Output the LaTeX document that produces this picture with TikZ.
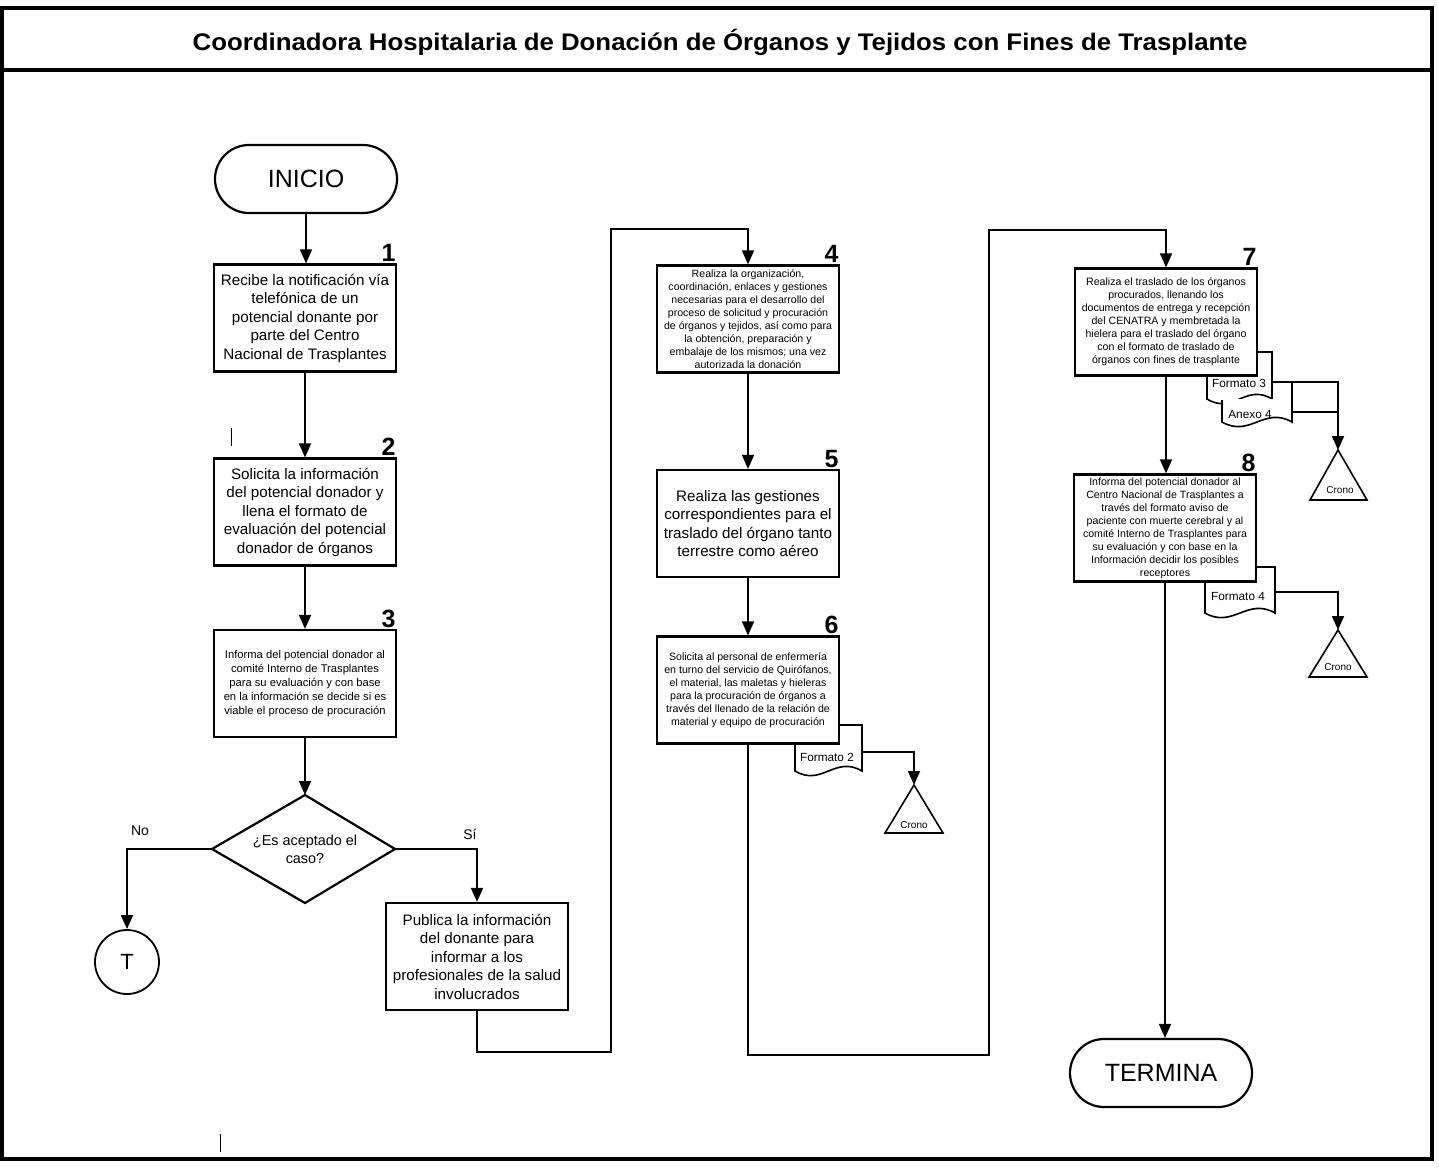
\documentclass[tikz,border=0pt]{standalone}
\usepackage{fontspec}
\setmainfont{Liberation Sans}
\usetikzlibrary{arrows.meta,shapes.geometric}
% document symbol: top-left (#1,#2), bottom-right (#3,#4), wavy bottom edge
\newcommand\docshape[5][]{%
  \draw[docline,#1] (#2,#3) -- (#4,#3) -- (#4,#5)
    .. controls ({#4-0.4*(#4-#2)},{#5-16}) and ({#2+0.4*(#4-#2)},{#5+16}) .. (#2,#5) -- cycle;}
\begin{document}
\begin{tikzpicture}[x=0.5pt,y=-0.5pt,
  frame/.style={line width=1.6pt},
  box/.style={draw, line width=1.1pt, fill=white, minimum width=91pt,
    minimum height=53.5pt, inner sep=1pt, align=center},
  btext/.style={font=\fontsize{7.6}{9.25}\selectfont},
  stext/.style={font=\fontsize{5.3}{6.5}\selectfont},
  mtext/.style={font=\fontsize{5.6}{7}\selectfont},
  term/.style={draw, line width=1.1pt, fill=white, rounded corners=17pt,
    minimum width=91pt, minimum height=34pt, font=\fontsize{12.5}{14}\selectfont},
  num/.style={anchor=south east, inner sep=0.6pt, font=\bfseries\fontsize{12.5}{14}\selectfont},
  flow/.style={line width=0.8pt, -{Triangle[length=7pt,width=6pt]}},
  link/.style={line width=0.8pt},
  docline/.style={draw, line width=0.8pt, fill=white},
  dtext/.style={inner sep=0pt, font=\fontsize{5.9}{7}\selectfont},
  ctext/.style={inner sep=0pt, font=\fontsize{5}{6}\selectfont},
  lbl/.style={inner sep=0pt, font=\fontsize{7}{8}\selectfont}
]
\useasboundingbox (0,0) rectangle (1439,1167);

% page frame and title band
\draw[frame] (2,8) rectangle (1432,1159);
\draw[frame] (2,70) -- (1432,70);
\node[font=\bfseries\fontsize{12}{14}\selectfont] (title) at (720,42)
  {\scalebox{1.075}[1]{Coordinadora Hospitalaria de Donación de Órganos y Tejidos con Fines de Trasplante}};

% column 1
\node[term] (inicio) at (306,179) {INICIO};
\node[box, btext] (b1) at (305,318) {Recibe la notificación vía\\ telefónica de un\\ potencial donante por\\ parte del Centro\\ Nacional de Trasplantes};
\node[num] at (b1.north east) {1};
\node[box, btext] (b2) at (305,512) {Solicita la información\\ del potencial donador y\\ llena el formato de\\ evaluación del potencial\\ donador de órganos};
\node[num] at (b2.north east) {2};
\node[box, mtext] (b3) at (305,683.5) {Informa del potencial donador al\\ comité Interno de Trasplantes\\ para su evaluación y con base\\ en la información se decide si es\\ viable el proceso de procuración};
\node[num] at (b3.north east) {3};

% decision
\coordinate (dt) at (305,795);
\coordinate (dr) at (395,849);
\coordinate (db) at (305,903);
\coordinate (dl) at (212,849);
\draw[line width=1.1pt, fill=white] (dt) -- (dr) -- (db) -- (dl) -- cycle;
\node[inner sep=0pt, align=center, font=\fontsize{7.2}{9}\selectfont] (dia) at (305,849)
  {¿Es aceptado el\\ caso?};
\node[draw, circle, line width=0.9pt, minimum size=32pt, inner sep=0pt,
  font=\fontsize{11}{12}\selectfont] (T) at (127,962) {T};
\node[box, btext] (pub) at (477,956.5) {Publica la información\\ del donante para\\ informar a los\\ profesionales de la salud\\ involucrados};
\node[lbl] (no) at (140,831) {No};
\node[lbl] (si) at (470,834) {Sí};

% column 2
\coordinate (f2r) at (862,752);
\docshape{795}{725}{862}{771}
\node[dtext] (f2) at (827,757) {Formato 2};
\node[box, stext] (b4) at (748,319) {Realiza la organización,\\ coordinación, enlaces y gestiones\\ necesarias para el desarrollo del\\ proceso de solicitud y procuración\\ de órganos y tejidos, así como para\\ la obtención, preparación y\\ embalaje de los mismos; una vez\\ autorizada la donación};
\node[num] at (b4.north east) {4};
\node[box, btext] (b5) at (748,523.5) {Realiza las gestiones\\ correspondientes para el\\ traslado del órgano tanto\\ terrestre como aéreo};
\node[num] at (b5.north east) {5};
\node[box, stext] (b6) at (748,690) {Solicita al personal de enfermería\\ en turno del servicio de Quirófanos,\\ el material, las maletas y hieleras\\ para la procuración de órganos a\\ través del llenado de la relación de\\ material y equipo de procuración};
\node[num] at (b6.north east) {6};
\coordinate (cr2) at (914,785);
\draw[docline] (cr2) -- (885,833) -- (943,833) -- cycle;
\node[ctext] (cr2t) at (914,825) {Crono};

% column 3
\coordinate (f3r) at (1272,382);
\coordinate (a4r) at (1292,412);
\docshape{1207}{352}{1272}{399}
\node[dtext] (f3) at (1239,383) {Formato 3};
\fill[white] (1222,399) -- (1292,399) -- (1292,422)
  .. controls (1264,406) and (1250,438) .. (1222,422) -- cycle;
\draw[link] (1292,383) -- (1292,422)
  .. controls (1264,406) and (1250,438) .. (1222,422) -- (1222,400);
\node[dtext] (a4) at (1250,414) {Anexo 4};
\coordinate (f4r) at (1275,592);
\docshape{1205}{567}{1275}{613}
\node[dtext] (f4) at (1238,596) {Formato 4};
\node[box, stext] (b7) at (1166,322) {Realiza el traslado de los órganos\\ procurados, llenando los\\ documentos de entrega y recepción\\ del CENATRA y membretada la\\ hielera para el traslado del órgano\\ con el formato de traslado de\\ órganos con fines de trasplante};
\node[num] at (b7.north east) {7};
\node[box, stext] (b8) at (1165,528) {Informa del potencial donador al\\ Centro Nacional de Trasplantes a\\ través del formato aviso de\\ paciente con muerte cerebral y al\\ comité Interno de Trasplantes para\\ su evaluación y con base en la\\ Información decidir los posibles\\ receptores};
\node[num] at (b8.north east) {8};
\node[term] (termina) at (1161,1073) {TERMINA};
\coordinate (cr3) at (1338,450);
\draw[docline] (cr3) -- (1310,500) -- (1367,500) -- cycle;
\node[ctext] (cr3t) at (1340,490) {Crono};
\coordinate (cr4) at (1338,630);
\draw[docline] (cr4) -- (1309,677) -- (1367,677) -- cycle;
\node[ctext] (cr4t) at (1338,667) {Crono};

% bends of the long connectors
\coordinate (r1a) at (611,1052);
\coordinate (r1b) at (611,229);
\coordinate (r2a) at (989,1055);
\coordinate (r2b) at (989,230);

% connectors
\draw[flow] (inicio.south) -- (inicio.south |- b1.north);
\draw[flow] (b1.south) -- (b2.north);
\draw[flow] (b2.south) -- (b3.north);
\draw[flow] (b3.south) -- (dt);
\draw[flow] (dl) -| (T.north);
\draw[flow] (dr) -| (pub.north);
\draw[flow] (pub.south) |- (r1a) -- (r1b) -| (b4.north);
\draw[flow] (b4.south) -- (b5.north);
\draw[flow] (b5.south) -- (b6.north);
\draw[flow] (b6.south) |- (r2a) -- (r2b) -| (b7.north);
\draw[flow] (b7.south) -- (b7.south |- b8.north);
\draw[flow] (b8.south) -- (b8.south |- termina.north);
\draw[flow] (f2r) -| (cr2);
\draw[flow] (f3r) -| (cr3);
\draw[link] (a4r) -- (a4r -| cr3);
\draw[flow] (f4r) -| (cr4);

% small pen strokes on the sheet
\draw[line width=0.5pt] (231,428) -- (231,446);
\draw[line width=0.5pt] (220,1134) -- (220,1152);
\end{tikzpicture}
\end{document}
